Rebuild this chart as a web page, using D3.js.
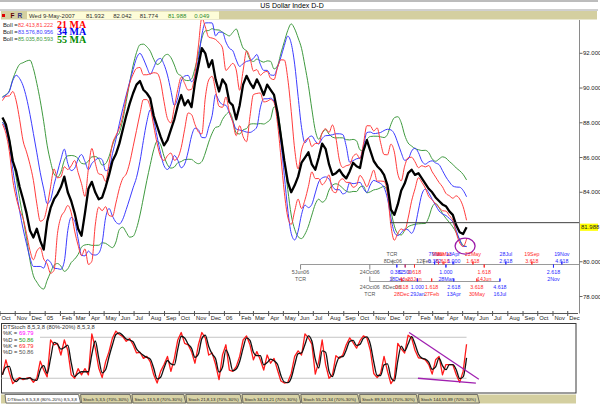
<!DOCTYPE html>
<html><head><meta charset="utf-8">
<script src="https://cdn.jsdelivr.net/npm/d3@7"></script>
<style>body{margin:0;background:#fff}svg{display:block}</style>
</head><body>
<svg id="c" width="600" height="411"></svg>
<script>
// ---------------- DATA ----------------
const title = "US Dollar Index  D-D";
const lastBar = ["Wed 9-May-2007", "81.932", "82.042", "81.774", "81.988", "0.049"];
const firstWeek = "2004-10-06";           // weekly closes, one per week (Wednesdays)
// estimated weekly closes before the visible window (needed for the bands)
const leadIn = [88.2, 88.9, 89.3, 88.6, 88.4, 88.9, 89.2, 88.7, 88.5, 89.0, 88.6];
const closes = [
  88.3, 87.9, 87.0, 85.8, 85.2, 84.3, 83.6, 82.8, 81.8, 81.4, 81.9, 81.2, 80.7, 82.3, 83.1, 83.6,
  83.9, 84.3, 84.9, 84.0, 83.5, 82.8, 81.9, 81.5, 82.8, 84.2, 84.6, 84.0, 83.6, 83.7, 84.3, 85.0,
  85.8, 86.2, 86.8, 87.6, 88.4, 89.1, 89.7, 90.2, 90.4, 89.9, 89.7, 89.4, 88.4, 87.8, 87.2, 86.7,
  87.0, 87.6, 88.2, 89.0, 89.6, 89.0, 89.3, 88.9, 90.3, 91.3, 92.3, 92.0, 91.2, 91.6, 90.5, 89.8,
  90.5, 90.2, 89.2, 89.0, 88.2, 89.0, 90.2, 90.7, 90.3, 90.0, 90.5, 90.1, 89.6, 90.2, 89.9, 89.6,
  88.6, 87.2, 85.8, 84.6, 84.0, 84.4, 84.9, 85.7, 86.0, 86.3, 85.6, 85.3, 86.0, 86.8, 86.5, 85.6,
  85.0, 85.1, 85.3, 85.0, 84.8, 85.2, 85.7, 85.5, 85.4, 86.4, 87.0, 86.4, 85.8, 85.5, 85.3, 85.0,
  84.4, 83.0, 82.7, 83.3, 84.1, 84.5, 85.1, 85.3, 85.0, 85.1, 84.8, 84.5, 84.2, 84.0, 83.7, 83.5,
  83.3, 83.2, 82.9, 82.7, 82.1, 81.7, 81.6, 81.988
];
const stochK = [
  25, 47, 28, 12, 18, 21, 18, 20, 21, 14, 20, 45, 32, 22, 76, 69,
  71, 54, 76, 61, 25, 20, 34, 25, 34, 25, 85, 64, 35, 21, 44, 59,
  79, 89, 84, 81, 74, 78, 69, 57, 58, 49, 52, 44, 25, 13, 30, 40,
  52, 30, 49, 76, 87, 71, 69, 59, 42, 69, 87, 79, 54, 57, 40, 18,
  54, 69, 32, 30, 37, 52, 76, 82, 69, 47, 59, 47, 32, 54, 42, 49,
  32, 16, 13, 14, 27, 52, 60, 54, 85, 79, 70, 26, 44, 76, 40, 20,
  25, 53, 49, 54, 69, 79, 72, 64, 75, 82, 79, 61, 27, 21, 27, 52,
  30, 12, 20, 71, 63, 57, 83, 79, 61, 50, 49, 47, 40, 26, 47, 52,
  25, 40, 40, 40, 25, 14, 30, 69.79
];
const priceTicks = [78, 80, 84, 86, 88, 90, 92];
const lastPrice = 81.988;
const bollNames = ["21 MA", "34 MA", "55 MA"];
const bollValues = ["82.413,81.222", "83.576,80.956", "85.035,80.593"];
const bollWeeks = [4, 7, 11];            // 21, 34 and 55 trading days in weeks
const bollWidth = 2.3;
const supportLine = {from: "2006-12-04", level: 82.25};
const circleMark = {date: "2007-05-06", level: 80.9};
const stochLegend = [["%K =", "69.79"], ["%D =", "50.86"], ["%K =", "69.79"], ["%D =", "50.86"]];
const stochTrend = [[["2007-01-12", 87], ["2007-06-03", 18.5]], [["2007-01-30", 20], ["2007-05-28", 12.7]]];
// Fibonacci time-cycle ruler labels: [row, text, date, colour key]
const tcrLabels = [
  [0, "TCR", "2006-12-08", "g"], [0, "7Mar", "2007-03-05", "b"], [0, "9Mar", "2007-03-13", "r"],
  [0, "30Mar", "2007-03-24", "r"], [0, "13Apr", "2007-04-11", "b"], [0, "22May", "2007-05-22", "r"],
  [0, "28Jul", "2007-07-28", "b"], [0, "19Sep", "2007-09-19", "r"], [0, "19Nov", "2007-11-19", "b"],
  [1, "8Dec06", "2006-12-10", "g"], [1, "12Feb", "2007-02-11", "g"], [1, "0.382", "2007-03-05", "b"],
  [1, "0.618", "2007-03-22", "r"], [1, "1.000", "2007-04-13", "b"], [1, "1.618", "2007-05-22", "r"],
  [1, "2.618", "2007-07-28", "b"], [1, "3.618", "2007-09-19", "r"], [1, "4.618", "2007-11-19", "b"],
  [2, "5Jun06", "2006-06-05", "g"], [2, "24Oct06", "2006-10-24", "g"], [2, "0.382", "2006-12-18", "b"],
  [2, "0.500", "2007-01-04", "b"], [2, "0.618", "2007-01-23", "r"], [2, "1.000", "2007-03-28", "b"],
  [2, "1.618", "2007-06-14", "r"], [2, "2.618", "2007-11-02", "b"],
  [3, "TCR", "2006-06-05", "g"], [3, "18Dec", "2006-12-18", "b"], [3, "4Jan", "2007-01-04", "r"],
  [3, "23Jan", "2007-01-23", "r"], [3, "28Mar", "2007-03-28", "b"], [3, "14Jun", "2007-06-14", "r"],
  [3, "2Nov", "2007-11-02", "b"],
  [4, "24Oct06", "2006-10-24", "g"], [4, "8Dec06", "2006-12-08", "g"], [4, "0.618", "2006-12-28", "r"],
  [4, "1.000", "2007-01-29", "b"], [4, "1.618", "2007-02-27", "r"], [4, "2.618", "2007-04-13", "b"],
  [4, "3.618", "2007-05-30", "r"], [4, "4.618", "2007-07-16", "b"],
  [5, "TCR", "2006-10-24", "g"], [5, "28Dec", "2006-12-28", "r"], [5, "29Jan", "2007-01-29", "b"],
  [5, "27Feb", "2007-02-27", "r"], [5, "13Apr", "2007-04-13", "b"], [5, "30May", "2007-05-30", "r"],
  [5, "16Jul", "2007-07-16", "b"]
];
const tcrRulers = [["2006-06-05", "2007-12-31"], ["2006-10-24", "2007-07-16"]];
const tabs = ["DTStoch 8,5,3,8 (80%-20%) 8,5,3,8", "Stoch 5,3,5 (70%-30%)", "Stoch 13,5,8 (70%-30%)",
  "Stoch 21,8,13 (70%-30%)", "Stoch 34,13,21 (70%-30%)", "Stoch 55,21,34 (70%-30%)",
  "Stoch 89,34,55 (70%-30%)", "Stoch 144,55,89 (70%-30%)"];

// ---------------- CHART ----------------
const F = "'Liberation Sans', Arial, sans-serif";
const svg = d3.select("#c");
const pd = d3.timeParse("%Y-%m-%d");
const x = d3.scaleTime().domain([new Date(2004, 9, 1), new Date(2007, 11, 26)]).range([0, 580]);
const y = d3.scaleLinear().domain([78, 92]).range([296.5, 53.3]);
const ys = d3.scaleLinear().domain([0, 100]).range([391.9, 323.6]);
const start = pd(firstWeek);
const dateAt = i => d3.timeDay.offset(start, 7 * i);

svg.append("rect").attr("width", 600).attr("height", 411).attr("fill", "#fff");
const defs = svg.append("defs");
defs.append("clipPath").attr("id", "cm").append("rect").attr("x", 0).attr("y", 20).attr("width", 579).attr("height", 293);
defs.append("clipPath").attr("id", "cs").append("rect").attr("x", 1.5).attr("y", 323.5).attr("width", 574).attr("height", 69);

// header
svg.append("line").attr("x1", 0).attr("x2", 598).attr("y1", 1).attr("y2", 1).attr("stroke", "#7a7a7a");
svg.append("text").attr("x", 292).attr("y", 7.6).attr("text-anchor", "middle").attr("font-family", F)
  .attr("font-size", 7).text(title);
svg.append("line").attr("x1", 0).attr("x2", 598).attr("y1", 10).attr("y2", 10).attr("stroke", "#a0a0a0");
svg.append("rect").attr("x", 1).attr("y", 11).attr("width", 596).attr("height", 8.5).attr("fill", "#d4cfa0");
svg.append("rect").attr("x", 27).attr("y", 11.5).attr("width", 192).attr("height", 7.5).attr("fill", "#fdfcd8");
svg.append("rect").attr("x", 2).attr("y", 14).attr("width", 3).attr("height", 3).attr("fill", "#e00000");
svg.append("text").attr("x", 10.5).attr("y", 18).attr("font-family", F).attr("font-size", 6.5).attr("font-weight", "bold").attr("fill", "#600000").text("F");
svg.append("text").attr("x", 17.5).attr("y", 18).attr("font-family", F).attr("font-size", 6.5).attr("font-weight", "bold").attr("fill", "#303080").text("R");
{
  let cx = 29;
  const gaps = [11, 9, 8, 10, 8, 0];
  lastBar.forEach((t, k) => {
    const tx = svg.append("text").attr("x", cx).attr("y", 17.6).attr("font-family", F).attr("font-size", 6)
      .attr("fill", k >= 4 ? "#2e8b2e" : "#303030").text(t);
    cx += tx.node().getComputedTextLength() + gaps[k];
  });
}

// main panel
const gm = svg.append("g").attr("clip-path", "url(#cm)");
const all = leadIn.concat(closes);
const L = leadIn.length;
const bandCols = ["#ff3c3c", "#3c3cff", "#3f9a3f"];
const bands = bollWeeks.map(p => closes.map((c, i) => {
  const win = all.slice(L + i - p + 1, L + i + 1);
  const m = d3.mean(win), s = d3.deviation(win);
  return {d: dateAt(i), up: m + bollWidth * s, lo: m - bollWidth * s};
}));
[2, 1, 0].forEach(k => {
  ["up", "lo"].forEach(key => {
    gm.append("path").datum(bands[k]).attr("fill", "none").attr("stroke", bandCols[k]).attr("stroke-width", 1)
      .attr("d", d3.line().curve(d3.curveMonotoneX).x(d => x(d.d)).y(d => y(d[key])));
  });
});
gm.append("path").datum(closes).attr("fill", "none").attr("stroke", "#000").attr("stroke-width", 2.3)
  .attr("stroke-linejoin", "round")
  .attr("d", d3.line().x((d, i) => x(dateAt(i))).y(d => y(d)));
gm.append("line").attr("x1", x(pd(supportLine.from))).attr("x2", 580)
  .attr("y1", y(supportLine.level)).attr("y2", y(supportLine.level)).attr("stroke", "#404040").attr("stroke-width", 1);
gm.append("ellipse").attr("cx", x(pd(circleMark.date))).attr("cy", y(circleMark.level)).attr("rx", 10).attr("ry", 8)
  .attr("fill", "none").attr("stroke", "#9a1aa8").attr("stroke-width", 1.3);

// TCR rulers
const tcrColor = {g: "#555", r: "#ff2a2a", b: "#2a2aff"};
const rowY = [253.5, 260.5, 271.8, 278.8, 287, 293.8];
const rulerY = [264.5, 281.5];
tcrRulers.forEach((r, k) => {
  gm.append("line").attr("x1", x(pd(r[0]))).attr("x2", x(pd(r[1]))).attr("y1", rulerY[k]).attr("y2", rulerY[k])
    .attr("stroke", "#9a9a9a").attr("stroke-width", 1);
});
tcrLabels.forEach(([row, t, d, c]) => {
  const xx = x(pd(d));
  if (t !== "TCR") {
    const ry = row < 4 ? rulerY[0] : rulerY[1];
    const dir = (row < 2) ? -1 : (row < 4 ? 1 : -1);
    gm.append("line").attr("x1", xx).attr("x2", xx).attr("y1", ry).attr("y2", ry + dir * (c === "g" ? 5 : 3))
      .attr("stroke", c === "g" ? "#888" : tcrColor[c]).attr("stroke-width", 1);
  }
  gm.append("text").attr("x", xx).attr("y", rowY[row] + 2).attr("text-anchor", "middle").attr("font-family", F)
    .attr("font-size", 5.3).attr("fill", tcrColor[c]).text(t);
});

// legend
bollNames.forEach((n, k) => {
  const yy = 26.5 + k * 7.4;
  svg.append("text").attr("x", 3).attr("y", yy).attr("font-family", F).attr("font-size", 5.8).attr("fill", "#222").text("Boll =");
  svg.append("text").attr("x", 18).attr("y", yy).attr("font-family", F).attr("font-size", 5.5).attr("fill", bandCols[k]).text(bollValues[k]);
  svg.append("text").attr("x", 57).attr("y", yy + 1.2).attr("font-family", "'Liberation Serif', 'Times New Roman', serif")
    .attr("font-size", 10).attr("font-weight", "bold").attr("fill", ["#ff0000", "#0000ee", "#008a00"][k]).text(n);
});

// right axis
svg.append("line").attr("x1", 579.5).attr("x2", 579.5).attr("y1", 20).attr("y2", 313.5).attr("stroke", "#8a8a8a");
priceTicks.forEach(v => {
  svg.append("line").attr("x1", 579.5).attr("x2", 582.5).attr("y1", y(v)).attr("y2", y(v)).attr("stroke", "#666");
  svg.append("text").attr("x", 583).attr("y", y(v) + 2).attr("font-family", F).attr("font-size", 6).attr("fill", "#222")
    .text(d3.format(".3f")(v));
});
svg.append("rect").attr("x", 580).attr("y", y(lastPrice) - 3.6).attr("width", 18).attr("height", 7.2).attr("fill", "#ffff00");
svg.append("text").attr("x", 581).attr("y", y(lastPrice) + 2.1).attr("font-family", F).attr("font-size", 6).attr("fill", "#222")
  .text(d3.format(".3f")(lastPrice));

// month axis
svg.append("line").attr("x1", 0).attr("x2", 578).attr("y1", 313.5).attr("y2", 313.5).attr("stroke", "#555");
d3.timeMonth.range(new Date(2004, 9, 1), new Date(2008, 0, 1)).forEach(m => {
  const xx = x(m);
  svg.append("line").attr("x1", xx).attr("x2", xx).attr("y1", 311).attr("y2", 316).attr("stroke", "#555");
  const lab = m.getMonth() === 0 ? d3.timeFormat("%y")(m) : d3.timeFormat("%b")(m);
  const t = svg.append("text").attr("x", xx + 1.5).attr("y", 319.8).attr("font-family", F).attr("font-size", 5.8)
    .attr("fill", "#222").text(lab);
  if (xx > 570) t.text("De");
});

// stochastic panel
svg.append("rect").attr("x", 1.5).attr("y", 323.5).attr("width", 574.5).attr("height", 69.5).attr("fill", "#fff")
  .attr("stroke", "#3a3a3a").attr("stroke-width", 1);
const gs = svg.append("g").attr("clip-path", "url(#cs)");
const lastX = x(dateAt(closes.length - 1));
gs.append("line").attr("x1", 40).attr("x2", lastX).attr("y1", ys(80)).attr("y2", ys(80)).attr("stroke", "#c4c4c4");
gs.append("line").attr("x1", 1).attr("x2", lastX).attr("y1", ys(20)).attr("y2", ys(20)).attr("stroke", "#c4c4c4");
const stochD = stochK.map((v, i) => i === 0 ? v : (v + stochK[i - 1]) / 2);
gs.append("path").datum(stochK).attr("fill", "none").attr("stroke", "#ff1a1a").attr("stroke-width", 1.3)
  .attr("stroke-linejoin", "round").attr("d", d3.line().x((d, i) => x(dateAt(i))).y(d => ys(d)));
gs.append("path").datum(stochD).attr("fill", "none").attr("stroke", "#111").attr("stroke-width", 1.3)
  .attr("d", d3.line().curve(d3.curveMonotoneX).x((d, i) => x(dateAt(i))).y(d => ys(d)));
stochTrend.forEach(seg => {
  gs.append("line").attr("x1", x(pd(seg[0][0]))).attr("y1", ys(seg[0][1])).attr("x2", x(pd(seg[1][0]))).attr("y2", ys(seg[1][1]))
    .attr("stroke", "#a020b0").attr("stroke-width", 1.3);
});
svg.append("text").attr("x", 3).attr("y", 329).attr("font-family", F).attr("font-size", 5.8).attr("fill", "#333")
  .text("DTStoch 8,5,3,8 (80%-20%) 8,5,3,8");
const slCols = ["#ff00ff", "#1a9a1a", "#ff2020", "#555"];
stochLegend.forEach(([a, b], k) => {
  const yy = 335.3 + k * 6.3;
  svg.append("text").attr("x", 3).attr("y", yy).attr("font-family", F).attr("font-size", 5.8).attr("fill", "#333").text(a);
  svg.append("text").attr("x", 19).attr("y", yy).attr("font-family", F).attr("font-size", 5.8).attr("fill", slCols[k]).text(b);
});

// tabs
svg.append("rect").attr("x", 1).attr("y", 394.5).attr("width", 575).attr("height", 9).attr("fill", "#d4cfa0");
{
  let cx = 5;
  tabs.forEach((t, k) => {
    const g = svg.append("g");
    const poly = g.append("polygon");
    const tx = g.append("text").attr("x", cx + 2.5).attr("y", 401.2).attr("font-family", F).attr("font-size", 4.4)
      .attr("fill", "#222").text(t);
    const w = tx.node().getComputedTextLength() + 4;
    poly.attr("points", [[cx, 394.5], [cx + w, 394.5], [cx + w + 2, 403], [cx + 1, 403]].map(p => p.join(",")).join(" "))
      .attr("fill", k === 0 ? "#fff" : "#d8d3a6").attr("stroke", "#555").attr("stroke-width", 0.8);
    cx += w + 2;
  });
}
</script>
</body></html>
